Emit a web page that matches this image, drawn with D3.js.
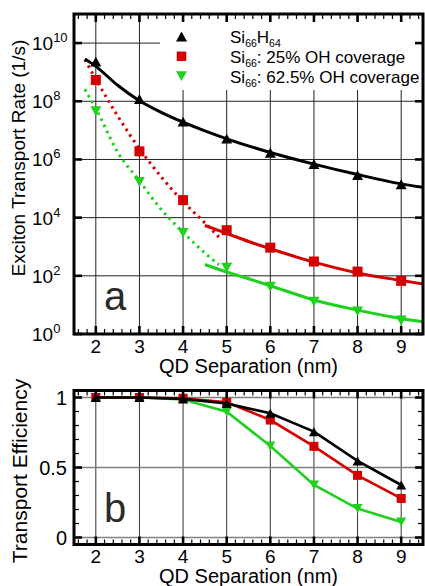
<!DOCTYPE html>
<html>
<head>
<meta charset="utf-8">
<script src="https://cdn.jsdelivr.net/npm/d3@7"></script>
<style>
  html, body { margin: 0; padding: 0; background: #fff; }
  svg { display: block; }
  text { font-family: "Liberation Sans", Arial, sans-serif; fill: #000; }
</style>
</head>
<body>
<svg id="chart" width="425" height="586"></svg>
<script>
// ---- data ----
const separations = [2, 3, 4, 5, 6, 7, 8, 9];            // QD separation (nm)
const xTicks = [2, 3, 4, 5, 6, 7, 8, 9];

// exciton transport rates (1/s)
const rateSiH = [2.3e9, 1.2e8, 2.0e7, 5.2e6, 1.7e6, 7.0e5, 2.9e5, 1.4e5];
const rateOH25 = [5.4e8, 1.9e6, 4.0e4, 3.7e3, 9.3e2, 3.1e2, 1.4e2, 6.7e1];
const rateOH625 = [4.6e7, 1.7e5, 3.0e3, 1.9e2, 42, 13, 6.0, 2.9];

// fitted curves, [separation, log10(rate)]
const fitSiH = [[1.75, 9.45], [2, 9.2], [2.5, 8.55], [3, 8.02], [3.5, 7.62], [4, 7.28], [4.5, 6.98], [5, 6.71], [6, 6.24], [7, 5.84], [8, 5.48], [9, 5.16], [9.5, 5.04]];
const fitOH25Short = [[1.75, 9.43], [2, 8.76], [2.5, 7.5], [3, 6.37], [3.5, 5.4], [4, 4.55], [4.5, 3.82], [4.88, 3.24]];
const fitOH25Long = [[4.5, 3.73], [5, 3.46], [5.5, 3.18], [6, 2.93], [7, 2.47], [8, 2.1], [9, 1.84], [9.5, 1.72]];
const fitOH625Short = [[1.75, 8.41], [2, 7.75], [2.5, 6.25], [3, 5.26], [3.5, 4.28], [4, 3.5], [4.5, 2.78], [4.82, 2.38]];
const fitOH625Long = [[4.5, 2.39], [5, 2.13], [5.5, 1.9], [6, 1.66], [7, 1.17], [8, 0.82], [9, 0.53], [9.5, 0.42]];

// transport efficiency
const effSiH = [1.0, 1.0, 0.99, 0.957, 0.887, 0.756, 0.547, 0.375];
const effOH25 = [1.0, 1.0, 0.995, 0.966, 0.839, 0.651, 0.444, 0.279];
const effOH625 = [1.0, 1.0, 0.986, 0.898, 0.654, 0.375, 0.207, 0.111];

const rateExponents = [0, 2, 4, 6, 8, 10];
const effTicks = [0, 0.5, 1];
const effTickLabels = ["0", "0.5", "1"];

const BLACK = "#000000", RED = "#d40000", GREEN = "#1fd01f";

// ---- layout ----
const svg = d3.select("#chart");
const xLeft = 74, xRight = 423;
const topY0 = 14, topY1 = 334;
const botY0 = 390.5, botY1 = 544.5;

const x = d3.scaleLinear().domain([1.5, 9.5]).range([xLeft, xRight]);
const yRate = d3.scaleLog().domain([1, 1e11]).range([topY1, topY0]);
const yEff = d3.scaleLinear().domain([-0.05, 1.05]).range([botY1, botY0]);

const defs = svg.append("defs");
defs.append("clipPath").attr("id", "clipTop")
  .append("rect").attr("x", xLeft).attr("y", topY0).attr("width", xRight - xLeft).attr("height", topY1 - topY0);
defs.append("clipPath").attr("id", "clipBot")
  .append("rect").attr("x", xLeft).attr("y", botY0).attr("width", xRight - xLeft).attr("height", botY1 - botY0);

// marker shapes centred on their bounding box
function triUp(s) { const h = s * 0.9; return `M0,${-h / 2}L${s / 2},${h / 2}L${-s / 2},${h / 2}Z`; }
function triDown(s) { const h = s * 0.9; return `M0,${h / 2}L${s / 2},${-h / 2}L${-s / 2},${-h / 2}Z`; }
function drawMarker(g, kind, cx, cy, s, color) {
  if (kind === "square") {
    g.append("rect").attr("x", cx - s / 2).attr("y", cy - s / 2).attr("width", s).attr("height", s).attr("fill", color);
  } else {
    g.append("path").attr("d", kind === "up" ? triUp(s) : triDown(s))
      .attr("transform", `translate(${cx},${cy})`).attr("fill", color);
  }
}

// ================= panel a =================
const gA = svg.append("g");

// grid
gA.selectAll(".vgrid").data(xTicks).join("line")
  .attr("x1", d => x(d)).attr("x2", d => x(d)).attr("y1", topY0).attr("y2", topY1)
  .attr("stroke", "#222").attr("stroke-width", 1);
gA.selectAll(".hgrid").data(rateExponents).join("line")
  .attr("x1", xLeft).attr("x2", xRight).attr("y1", d => yRate(Math.pow(10, d))).attr("y2", d => yRate(Math.pow(10, d)))
  .attr("stroke", "#222").attr("stroke-width", 1);

// legend background
gA.append("rect").attr("x", 160).attr("y", 16).attr("width", 261).attr("height", 74).attr("fill", "#fff");

// curves
const lineLog = d3.line().x(d => x(d[0])).y(d => yRate(Math.pow(10, d[1]))).curve(d3.curveMonotoneX);
const curves = gA.append("g").attr("clip-path", "url(#clipTop)");
curves.append("path").attr("d", lineLog(fitOH625Short)).attr("fill", "none").attr("stroke", GREEN)
  .attr("stroke-width", 3).attr("stroke-dasharray", "2.5,4.2");
curves.append("path").attr("d", lineLog(fitOH25Short)).attr("fill", "none").attr("stroke", RED)
  .attr("stroke-width", 3).attr("stroke-dasharray", "2.5,4.2");
curves.append("path").attr("d", lineLog(fitOH625Long)).attr("fill", "none").attr("stroke", GREEN).attr("stroke-width", 3);
curves.append("path").attr("d", lineLog(fitOH25Long)).attr("fill", "none").attr("stroke", RED).attr("stroke-width", 3);
curves.append("path").attr("d", lineLog(fitSiH)).attr("fill", "none").attr("stroke", BLACK).attr("stroke-width", 3);

// data markers
const mA = gA.append("g");
separations.forEach((s, i) => {
  drawMarker(mA, "down", x(s), yRate(rateOH625[i]), 11, GREEN);
  drawMarker(mA, "square", x(s), yRate(rateOH25[i]), 10, RED);
  drawMarker(mA, "up", x(s), yRate(rateSiH[i]), 11, BLACK);
});

// legend
const legendRows = [
  { kind: "up", color: BLACK, parts: [["Si", 0], ["66", 1], ["H", 0], ["64", 1]] },
  { kind: "square", color: RED, parts: [["Si", 0], ["66", 1], [": 25% OH coverage", 0]] },
  { kind: "down", color: GREEN, parts: [["Si", 0], ["66", 1], [": 62.5% OH coverage", 0]] }
];
legendRows.forEach((row, i) => {
  const base = 43 + i * 19.8;
  drawMarker(gA, row.kind, 181.5, base - 6.5, row.kind === "square" ? 9.5 : 11, row.color);
  const t = gA.append("text").attr("x", 230).attr("y", base).attr("font-size", 17);
  let sub = false;
  row.parts.forEach(([str, isSub]) => {
    const ts = t.append("tspan").text(str);
    if (isSub && !sub) { ts.attr("dy", 4).attr("font-size", 10.5); sub = true; }
    else if (!isSub && sub) { ts.attr("dy", -4); sub = false; }
    else if (isSub) { ts.attr("font-size", 10.5); }
  });
});

// frame
gA.append("rect").attr("x", xLeft).attr("y", topY0).attr("width", xRight - xLeft).attr("height", topY1 - topY0)
  .attr("fill", "none").attr("stroke", "#000").attr("stroke-width", 3);

// ticks on x spines
const minorX = d3.range(16, 95, 2).map(v => v / 10).filter(v => Math.abs(v - Math.round(v)) > 1e-6);
function xSpineTicks(g, yLine, dir) {
  g.selectAll(null).data(minorX).join("line")
    .attr("x1", d => x(d)).attr("x2", d => x(d)).attr("y1", yLine).attr("y2", yLine + dir * 5)
    .attr("stroke", "#000").attr("stroke-width", 1.2);
  g.selectAll(null).data(xTicks).join("line")
    .attr("x1", d => x(d)).attr("x2", d => x(d)).attr("y1", yLine).attr("y2", yLine + dir * 8)
    .attr("stroke", "#000").attr("stroke-width", 2.6);
}
xSpineTicks(gA, topY1, -1);
xSpineTicks(gA, topY0, 1);
[[xLeft, 1], [xRight, -1]].forEach(([xl, dir]) => {
  gA.selectAll(null).data(rateExponents).join("line")
    .attr("x1", xl).attr("x2", xl + dir * 8)
    .attr("y1", d => yRate(Math.pow(10, d))).attr("y2", d => yRate(Math.pow(10, d)))
    .attr("stroke", "#000").attr("stroke-width", 2.6);
});

// tick labels
gA.selectAll(".xl").data(xTicks).join("text")
  .attr("x", d => x(d)).attr("y", 353).attr("text-anchor", "middle").attr("font-size", 19).text(d => d);
rateExponents.forEach(e => {
  const t = gA.append("text").attr("x", 32).attr("y", yRate(Math.pow(10, e)) + 7).attr("font-size", 19);
  t.append("tspan").text("10");
  t.append("tspan").attr("dy", -8).attr("font-size", 13).text(e);
});

// axis titles
gA.append("text").attr("x", x(5.5)).attr("y", 373).attr("text-anchor", "middle").attr("font-size", 20)
  .text("QD Separation (nm)");
gA.append("text").attr("transform", "translate(25,158) rotate(-90)").attr("text-anchor", "middle").attr("font-size", 19)
  .text("Exciton Transport Rate (1/s)");
gA.append("text").attr("x", 104).attr("y", 310).attr("font-size", 40).style("fill", "#2b2b2b").text("a");

// ================= panel b =================
const gB = svg.append("g");
gB.selectAll(null).data(xTicks).join("line")
  .attr("x1", d => x(d)).attr("x2", d => x(d)).attr("y1", botY0).attr("y2", botY1)
  .attr("stroke", "#333").attr("stroke-width", 1);
gB.selectAll(null).data(effTicks).join("line")
  .attr("x1", xLeft).attr("x2", xRight).attr("y1", d => yEff(d)).attr("y2", d => yEff(d))
  .attr("stroke", "#808080").attr("stroke-width", 1.5);

const lineEff = d3.line().x(d => x(d[0])).y(d => yEff(d[1]));
const seriesB = [
  { vals: effOH625, color: GREEN, kind: "down" },
  { vals: effOH25, color: RED, kind: "square" },
  { vals: effSiH, color: BLACK, kind: "up" }
];
const cB = gB.append("g").attr("clip-path", "url(#clipBot)");
seriesB.forEach(s => {
  const pts = separations.map((sep, i) => [sep, s.vals[i]]);
  cB.append("path").attr("d", lineEff(pts)).attr("fill", "none").attr("stroke", s.color).attr("stroke-width", 2.6);
  pts.forEach(p => drawMarker(cB, s.kind, x(p[0]), yEff(p[1]), s.kind === "square" ? 9 : 10, s.color));
});

gB.append("rect").attr("x", xLeft).attr("y", botY0).attr("width", xRight - xLeft).attr("height", botY1 - botY0)
  .attr("fill", "none").attr("stroke", "#000").attr("stroke-width", 3);
xSpineTicks(gB, botY1, -1);
xSpineTicks(gB, botY0, 1);
const minorEff = d3.range(0, 11).map(v => v / 10).filter(v => v !== 0 && v !== 0.5 && v !== 1);
[[xLeft, 1], [xRight, -1]].forEach(([xl, dir]) => {
  gB.selectAll(null).data(minorEff).join("line")
    .attr("x1", xl).attr("x2", xl + dir * 5).attr("y1", d => yEff(d)).attr("y2", d => yEff(d))
    .attr("stroke", "#000").attr("stroke-width", 1.2);
  gB.selectAll(null).data(effTicks).join("line")
    .attr("x1", xl).attr("x2", xl + dir * 8).attr("y1", d => yEff(d)).attr("y2", d => yEff(d))
    .attr("stroke", "#000").attr("stroke-width", 2.6);
});

gB.selectAll(null).data(xTicks).join("text")
  .attr("x", d => x(d)).attr("y", 563).attr("text-anchor", "middle").attr("font-size", 19).text(d => d);
gB.selectAll(null).data(effTicks).join("text")
  .attr("x", 67).attr("y", d => yEff(d) + 7).attr("text-anchor", "end").attr("font-size", 20)
  .text((d, i) => effTickLabels[i]);
gB.append("text").attr("x", x(5.5)).attr("y", 583).attr("text-anchor", "middle").attr("font-size", 20)
  .text("QD Separation (nm)");
gB.append("text").attr("transform", "translate(27,471) rotate(-90)").attr("text-anchor", "middle").attr("font-size", 21)
  .text("Transport Efficiency");
gB.append("text").attr("x", 104).attr("y", 522).attr("font-size", 40).style("fill", "#2b2b2b").text("b");
</script>
</body>
</html>
